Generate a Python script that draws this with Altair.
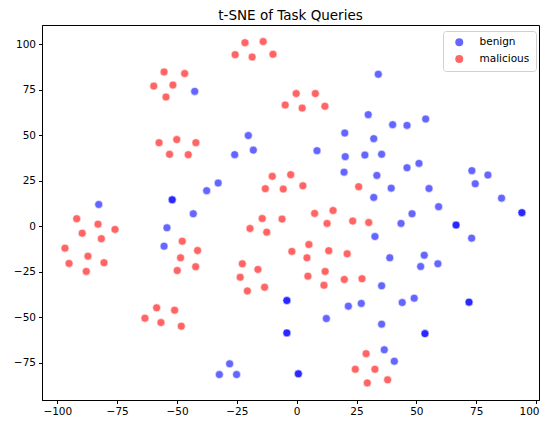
import altair as alt
import pandas as pd

# benign points (duplicates appear darker in the reference)
benign_x = [-42.6, -37.6, -82.7, -43.2, 34.1, 29.9, 20.1, 32.2, -20.2, -18.1,
            -25.9, 8.5, 20.3, 28.5, 35.5, 19.8, 33.5, 32.2, -32.8, 40.1,
            46.1, 53.9, 46.1, 51.1, 39.5, 55.3, 73.2, 79.9, 74.6, 85.6,
            59.3, 48.2, 43.6, -54.2, -55.4, 32.7, 73.1, 38.9, 53.3, 51.8,
            59.0, 35.5, 44.1, 49.1, 21.6, 27.0, 12.4, 35.5, 36.6, 40.8,
            -28.0, -32.3, -25.1,
            -52.0, -52.0, -4.1, -4.1, -4.1, -4.1, 0.7, 0.7, 66.6, 66.6,
            94.1, 94.1, 72.0, 72.0, 53.6, 53.6]
benign_y = [74.1, 19.5, 11.9, 6.8, 83.5, 61.3, 51.2, 48.1, 49.8, 41.8,
            39.3, 41.5, 38.2, 39.1, 39.5, 29.7, 27.9, 15.8, 23.7, 55.8,
            55.4, 58.9, 32.1, 34.5, 20.9, 20.7, 30.5, 28.1, 23.3, 15.4,
            10.7, 6.8, 1.5, -0.9, -11.0, -5.7, -6.6, -17.4, -16.0, -22.2,
            -20.7, -32.8, -42.0, -39.6, -44.0, -42.5, -50.8, -53.9, -68.0, -74.3,
            -75.7, -81.6, -81.6,
            14.5, 14.5, -40.9, -40.9, -58.7, -58.7, -81.2, -81.2, 0.6, 0.6,
            7.4, 7.4, -41.8, -41.8, -59.1, -59.1]

malicious_x = [-55.4, -46.8, -59.7, -51.7, -54.6, -57.5, -50.1, -42.1, -53.1, -45.3,
               -21.6, -14.0, -25.7, -18.6, -9.9, -0.2, 7.8, -4.8, 2.3, 11.8,
               -10.2, -2.5, -13.1, -5.6, 2.6, 25.9, 7.5, 15.2, -91.9, -83.0,
               -89.6, -81.6, -75.9, -96.8, -87.2, -95.1, -80.5, -87.9, -47.8, -41.4,
               -48.5, -49.9, -42.2, -58.5, -51.0, -63.4, -56.7, -48.2, -14.4, -6.1,
               -19.5, -12.5, 12.7, 23.4, 30.1, 5.1, -2.0, 4.3, 13.4, 21.1,
               -22.7, -16.2, -23.6, -13.4, -20.6, 4.7, 11.9, 11.4, 19.9, 27.3,
               29.0, 24.5, 32.7, 29.5, 38.0]
malicious_y = [84.8, 83.9, 77.0, 77.6, 71.0, 45.9, 47.6, 45.9, 39.5, 39.3,
               100.9, 101.5, 94.3, 93.0, 94.5, 72.9, 72.9, 66.6, 64.9, 65.9,
               27.4, 28.3, 20.6, 20.4, 22.2, 21.7, 7.0, 8.6, 4.1, 1.1,
               -3.9, -6.9, -1.8, -12.1, -16.5, -20.5, -20.1, -24.9, -8.3, -13.4,
               -17.4, -24.4, -22.3, -44.9, -46.2, -50.6, -53.0, -55.0, 4.2, 3.9,
               -1.3, -3.3, 1.5, 2.8, 2.0, -10.1, -13.9, -17.4, -13.5, -15.2,
               -20.7, -23.8, -28.1, -33.6, -35.6, -27.5, -24.9, -32.5, -29.3, -28.9,
               -70.1, -78.7, -78.7, -86.2, -84.5]

x_ticks = [-100, -75, -50, -25, 0, 25, 50, 75, 100]
y_ticks = [-75, -50, -25, 0, 25, 50, 75, 100]
labels = ["benign", "malicious"]
colors = ["blue", "red"]

df = pd.concat([
    pd.DataFrame({"x": benign_x, "y": benign_y, "label": labels[0]}),
    pd.DataFrame({"x": malicious_x, "y": malicious_y, "label": labels[1]}),
], ignore_index=True)
df["order"] = range(len(df))

FONT = "DejaVu Sans"
PLOT_W = 497

chart = alt.Chart(df).mark_circle(
    size=64, opacity=0.6, stroke="white", strokeWidth=0.6
).encode(
    x=alt.X("x:Q", scale=alt.Scale(domain=[-106.4, -106.4 + PLOT_W / 2.3935], nice=False, zero=False),
            axis=alt.Axis(values=x_ticks, title=None, grid=False,
                          labelFlush=5, labelFlushOffset=3)),
    y=alt.Y("y:Q", scale=alt.Scale(domain=[-95.6, 110.6], nice=False, zero=False),
            axis=alt.Axis(values=y_ticks, title=None, grid=False)),
    color=alt.Color("label:N", scale=alt.Scale(domain=labels, range=colors),
                    legend=alt.Legend(title=None, orient="none", legendX=401, legendY=6,
                                      strokeColor="#d0d0d0", fillColor="white",
                                      padding=6, cornerRadius=3, symbolSize=64,
                                      symbolOpacity=0.6, symbolStrokeWidth=0,
                                      labelFontSize=10.5, labelFont=FONT,
                                      labelColor="black", rowPadding=5.8,
                                      symbolOffset=5, labelOffset=15)),
    order=alt.Order("order:Q"),
).properties(
    width=PLOT_W, height=375,
    title=alt.TitleParams("t-SNE of Task Queries", font=FONT, fontSize=13.5,
                          fontWeight="normal", color="black", offset=3),
    autosize=alt.AutoSizeParams(type="none"),
    padding={"left": 34, "top": 17, "right": 1, "bottom": 19},
).configure_view(
    stroke="black", strokeWidth=1
).configure_axis(
    domainColor="black", tickColor="black", tickSize=3.5,
    labelFont=FONT, labelFontSize=10.5, labelColor="black", labelPadding=3
)

chart.save("out.html", embed_options={"renderer": "svg", "actions": False})
